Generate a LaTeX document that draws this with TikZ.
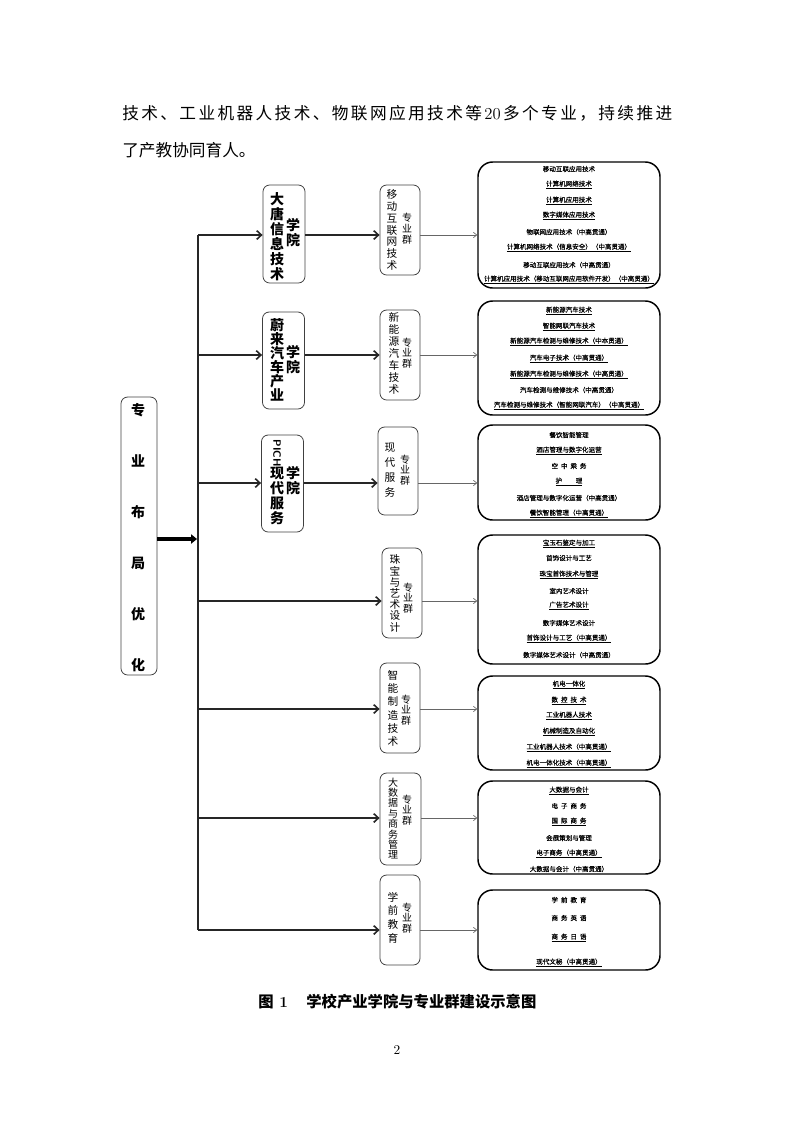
\documentclass[tikz,border=0pt]{standalone}
\usepackage{fontspec}
\newfontfamily\cjk{Noto Sans CJK SC}
\newfontfamily\cjkdark[FakeBold=0.5]{Noto Sans CJK SC}
\usetikzlibrary{arrows.meta}
\newcommand\uln[1]{\underline{#1}}
\newcommand\gp{\hspace{0.45em}}
\tikzset{
 trunk/.style={line width=1.5pt, draw=black!85},
 branch/.style={line width=1.2pt, draw=black!85, -{Straight Barb[length=3.5pt,width=6.5pt]}},
 thinarrow/.style={line width=0.5pt, draw=black!60, -{Straight Barb[length=2.5pt,width=4pt]}},
 bigarrow/.style={line width=2.6pt, draw=black, -{Triangle[length=4.5pt,width=7pt]}},
 cbox/.style={draw=black!75, line width=0.6pt, rounded corners=5pt, inner sep=0pt},
 rbox/.style={draw=black, line width=1.1pt, rounded corners=11pt, inner sep=0pt, minimum width=136.5pt},
 item/.style={font=\cjkdark\fontsize{4.9}{5}\selectfont, inner sep=0pt, text=black},
 colbig/.style={font=\cjk\bfseries\fontsize{10.5}{#1}\selectfont, align=center, inner sep=0pt},
 colmid/.style={font=\cjk\fontsize{8}{#1}\selectfont, align=center, inner sep=0pt},
 colsmall/.style={font=\cjk\fontsize{7.5}{#1}\selectfont, align=center, inner sep=0pt},
}
\begin{document}
\begin{tikzpicture}[x=0.75pt,y=-0.75pt]
\useasboundingbox (0,0) rectangle (793,1122);
% body text
\node[anchor=west, inner sep=0pt, font=\cjk\fontsize{12.5}{14}\selectfont] (t1) at (122,113)
 {\makebox[412.5pt][s]{技\hfil 术\hfil 、\hfil 工\hfil 业\hfil 机\hfil 器\hfil 人\hfil 技\hfil 术\hfil 、\hfil 物\hfil 联\hfil 网\hfil 应\hfil 用\hfil 技\hfil 术\hfil 等\hfil {\rmfamily 20}\hfil 多\hfil 个\hfil 专\hfil 业\hfil ，\hfil 持\hfil 续\hfil 推\hfil 进}};
\node[anchor=west, inner sep=0pt, font=\cjk\fontsize{12.5}{14}\selectfont] (t2) at (122,150) {了产教协同育人。};

% left box
\node[cbox, minimum width=27pt, minimum height=208.5pt] (L) at (139,536) {};
\node[font=\cjk\bfseries\fontsize{10.5}{38.25}\selectfont, align=center, inner sep=0pt] (Lt) at (138,537.5) {专\\业\\布\\局\\优\\化};

% college boxes
\node[cbox, minimum width=31.5pt, minimum height=73.5pt] (A) at (284,234) {};
\node[colbig=11.25pt] (At) at (277,237) {大\\唐\\信\\息\\技\\术};
\node[colbig=11.25pt] (As) at (293,233) {学\\院};
\node[cbox, minimum width=31.5pt, minimum height=72.75pt] (B) at (283.5,360.5) {};
\node[colbig=10.5pt] (Bt) at (277,360) {蔚\\来\\汽\\车\\产\\业};
\node[colbig=11.25pt] (Bs) at (293,360) {学\\院};
\node[cbox, minimum width=31.5pt, minimum height=72.75pt] (C) at (282.5,483.5) {};
\node[rotate=-90, font=\bfseries\sffamily\fontsize{8}{9}\selectfont, inner sep=0pt] (Cp) at (277,453) {PICH};
\node[colbig=11.25pt] (Ct) at (277,495.5) {现\\代\\服\\务};
\node[colbig=11.25pt] (Cs) at (293,481) {学\\院};

% cluster boxes
\node[cbox, minimum width=30pt, minimum height=67.5pt] (K1) at (400,230) {};
\node[colmid=8.8pt] (K1t) at (392,230) {移\\动\\互\\联\\网\\技\\术};
\node[colsmall=8.2pt] (K1s) at (407,229) {专\\业\\群};
\node[cbox, minimum width=30pt, minimum height=67.5pt] (K2) at (400,355) {};
\node[colmid=9.1pt] (K2t) at (394,353.5) {新\\能\\源\\汽\\车\\技\\术};
\node[colsmall=7.8pt] (K2s) at (407,353) {专\\业\\群};
\node[cbox, minimum width=30pt, minimum height=66pt] (K3) at (398,471) {};
\node[colmid=11.25pt] (K3t) at (390,470.5) {现\\代\\服\\务};
\node[colsmall=7.8pt] (K3s) at (405,470) {专\\业\\群};
\node[cbox, minimum width=30pt, minimum height=67.5pt] (K4) at (402,593) {};
\node[colmid=8.4pt] (K4t) at (395,593.5) {珠\\宝\\与\\艺\\术\\设\\计};
\node[colsmall=7.8pt] (K4s) at (408,598) {专\\业\\群};
\node[cbox, minimum width=30pt, minimum height=67.5pt] (K5) at (400,708) {};
\node[colmid=10pt] (K5t) at (393,708.5) {智\\能\\制\\造\\技\\术};
\node[colsmall=7.8pt] (K5s) at (406,710) {专\\业\\群};
\node[cbox, minimum width=30.75pt, minimum height=69pt] (K6) at (400.5,819) {};
\node[colsmall=7.8pt] (K6t) at (393,818.5) {大\\数\\据\\与\\商\\务\\管\\理};
\node[colsmall=7.8pt] (K6s) at (407,810) {专\\业\\群};
\node[cbox, minimum width=30pt, minimum height=67.5pt] (K7) at (400,920) {};
\node[colmid=10.3pt] (K7t) at (393,917.5) {学\\前\\教\\育};
\node[colsmall=7.8pt] (K7s) at (407,918) {专\\业\\群};

% right boxes
\node[rbox, minimum height=94.5pt] (R1) at (569,225) {};
\node[item] at (569,169) {移动互联应用技术};
\node[item] at (569,185) {\uln{计算机网络技术}};
\node[item] at (569,201) {\uln{计算机应用技术}};
\node[item] at (569,216) {\uln{数字媒体应用技术}};
\node[item] at (569,232) {物联网应用技术（中高贯通）};
\node[item] at (569,248) {\uln{计算机网络技术（信息安全）（中高贯通）}};
\node[item] at (569,265) {移动互联应用技术（中高贯通）};
\node[item] at (569,280) {\uln{计算机应用技术（移动互联网应用软件开发）（中高贯通）}};

\node[rbox, minimum height=85.5pt] (R2) at (569,358) {};
\node[item] at (569,311) {\uln{新能源汽车技术}};
\node[item] at (569,327) {\uln{智能网联汽车技术}};
\node[item] at (569,342) {\uln{新能源汽车检测与维修技术（中本贯通）}};
\node[item] at (569,359) {\uln{汽车电子技术（中高贯通）}};
\node[item] at (569,375) {\uln{新能源汽车检测与维修技术（中高贯通）}};
\node[item] at (569,390) {汽车检测与维修技术（中高贯通）};
\node[item] at (569,406) {\uln{汽车检测与维修技术（智能网联汽车）（中高贯通）}};

\node[rbox, minimum height=71.25pt] (R3) at (569,472.5) {};
\node[item] at (569,435) {餐饮智能管理};
\node[item] at (569,451) {\uln{酒店管理与数字化运营}};
\node[item] at (569,466) {空\gp 中\gp 乘\gp 务};
\node[item] at (569,482) {\uln{护\hspace{2.1em}理}};
\node[item] at (569,498) {酒店管理与数字化运营（中高贯通）};
\node[item] at (569,514) {\uln{餐饮智能管理（中高贯通）}};

\node[rbox, minimum height=96.75pt] (R4) at (569,599.5) {};
\node[item] at (569,544) {\uln{宝玉石鉴定与加工}};
\node[item] at (569,558) {首饰设计与工艺};
\node[item] at (569,575) {\uln{珠宝首饰技术与管理}};
\node[item] at (569,591) {室内艺术设计};
\node[item] at (569,606) {\uln{广告艺术设计}};
\node[item] at (569,623) {数字媒体艺术设计};
\node[item] at (569,639) {\uln{首饰设计与工艺（中高贯通）}};
\node[item] at (569,655) {数字媒体艺术设计（中高贯通）};

\node[rbox, minimum height=70.5pt] (R5) at (569,723) {};
\node[item] at (569,685) {\uln{机电一体化}};
\node[item] at (569,701) {\uln{数\gp 控\gp 技\gp 术}};
\node[item] at (569,716) {\uln{工业机器人技术}};
\node[item] at (569,732) {\uln{机械制造及自动化}};
\node[item] at (569,748) {\uln{工业机器人技术（中高贯通）}};
\node[item] at (569,764) {\uln{机电一体化技术（中高贯通）}};

\node[rbox, minimum height=69.75pt] (R6) at (569,827.5) {};
\node[item] at (569,791) {\uln{大数据与会计}};
\node[item] at (569,806) {电\gp 子\gp 商\gp 务};
\node[item] at (569,822) {\uln{国\gp 际\gp 商\gp 务}};
\node[item] at (569,838) {会展策划与管理};
\node[item] at (569,854) {\uln{电子商务（中高贯通）}};
\node[item] at (569,869) {大数据与会计（中高贯通）};

\node[rbox, minimum height=60pt] (R7) at (569,930) {};
\node[item] at (569,900) {学\gp 前\gp 教\gp 育};
\node[item] at (569,918) {商\gp 务\gp 英\gp 语};
\node[item] at (569,938) {\uln{商\gp 务\gp 日\gp 语}};
\node[item] at (569,963) {\uln{现代文秘（中高贯通）}};

% trunk and junctions
\coordinate (j1) at (198,235);
\coordinate (j2) at (198,355);
\coordinate (j3) at (198,483);
\coordinate (j4) at (198,601);
\coordinate (j5) at (198,709);
\coordinate (j6) at (198,818);
\coordinate (j7) at (198,930);
\coordinate (jm) at (197,539);
\draw[trunk] (j1) -- (j7);
\draw[bigarrow] (L.east |- jm) -- (jm);

\draw[branch] (j1) -- (A.west |- j1);
\draw[branch] (A.east |- j1) -- (K1.west |- j1);
\draw[thinarrow] (K1.east |- j1) -- (R1.west |- j1);
\draw[branch] (j2) -- (B.west |- j2);
\draw[branch] (B.east |- j2) -- (K2.west |- j2);
\draw[thinarrow] (K2.east |- j2) -- (R2.west |- j2);
\draw[branch] (j3) -- (C.west |- j3);
\draw[branch] (C.east |- j3) -- (K3.west |- j3);
\draw[thinarrow] (K3.east |- j3) -- (R3.west |- j3);
\draw[branch] (j4) -- (K4.west |- j4);
\draw[thinarrow] (K4.east |- j4) -- (R4.west |- j4);
\draw[branch] (j5) -- (K5.west |- j5);
\draw[thinarrow] (K5.east |- j5) -- (R5.west |- j5);
\draw[branch] (j6) -- (K6.west |- j6);
\draw[thinarrow] (K6.east |- j6) -- (R6.west |- j6);
\draw[branch] (j7) -- (K7.west |- j7);
\draw[thinarrow] (K7.east |- j7) -- (R7.west |- j7);

% caption and page number
\node[anchor=west, inner sep=0pt, font=\cjk\bfseries\fontsize{11.5}{13}\selectfont] (cap) at (258,1002) {图{\rmfamily\bfseries\ 1}\hspace{1.2em}学校产业学院与专业群建设示意图};
\node[inner sep=0pt, font=\fontsize{10}{12}\selectfont] (pg) at (397,1050) {2};
\end{tikzpicture}
\end{document}
